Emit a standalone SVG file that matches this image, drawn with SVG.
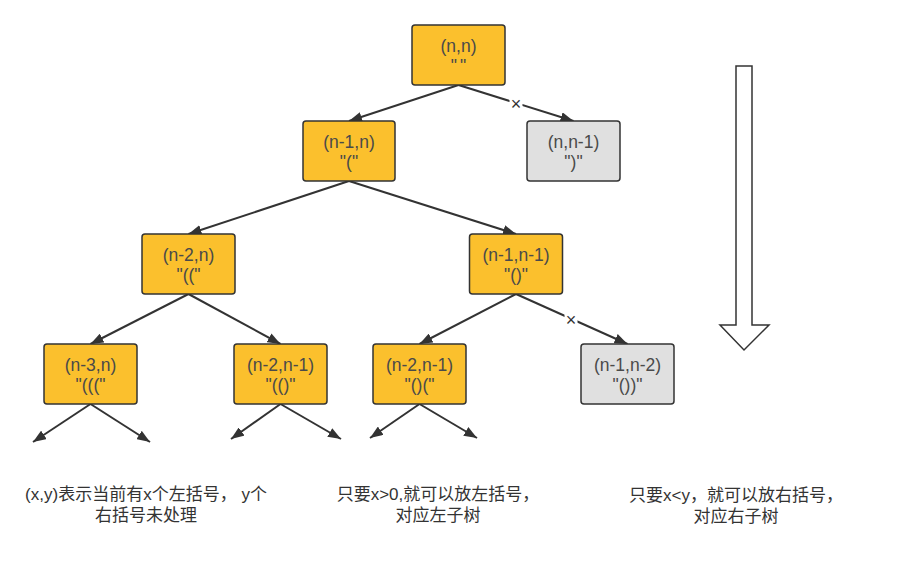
<svg xmlns="http://www.w3.org/2000/svg" width="901" height="564" viewBox="0 0 901 564">
<style>
.n rect{stroke:#333;stroke-width:1.5}
.o rect{fill:#fbc02d}
.g rect{fill:#e0e0e0}
.n text{font-family:"Liberation Sans",sans-serif;font-size:17.5px;fill:#4a4a4a;text-anchor:middle}
.e line{stroke:#333;stroke-width:2;marker-end:url(#ah)}
.x{font-family:"Liberation Sans",sans-serif;font-size:18px;fill:#333;text-anchor:middle}
.t{font-family:"Liberation Sans","Noto Sans CJK SC",sans-serif;font-size:17px;fill:#333;text-anchor:middle}
</style>
<defs>
<marker id="ah" viewBox="0 0 13 10" refX="13" refY="5" markerWidth="13" markerHeight="10" markerUnits="userSpaceOnUse" orient="auto">
<path d="M0,0 L13,5 L0,10 z" fill="#333"/>
</marker>
</defs>
<rect width="901" height="564" fill="#fff"/>
<g id="edges" class="e">
<line x1="458.5" y1="85" x2="349" y2="121"/>
<line x1="458.5" y1="85" x2="573.5" y2="121"/>
<line x1="349" y1="181" x2="188.5" y2="234"/>
<line x1="349" y1="181" x2="516" y2="234"/>
<line x1="188.5" y1="294" x2="90.5" y2="344"/>
<line x1="188.5" y1="294" x2="280.5" y2="344"/>
<line x1="516" y1="294" x2="419.5" y2="344"/>
<line x1="516" y1="294" x2="627.5" y2="344"/>
<line x1="90.5" y1="404" x2="33" y2="442"/>
<line x1="90.5" y1="404" x2="150" y2="442"/>
<line x1="280.5" y1="404" x2="231" y2="439"/>
<line x1="280.5" y1="404" x2="341" y2="439"/>
<line x1="419.5" y1="404" x2="370" y2="438"/>
<line x1="419.5" y1="404" x2="477" y2="438"/>
<rect x="509.5" y="97.5" width="13" height="13" fill="#fff"/>
<text class="x" x="516" y="110">×</text>
<rect x="564.5" y="313.5" width="13" height="13" fill="#fff"/>
<text class="x" x="571" y="326">×</text>
</g>
<g id="n0" class="n o"><rect x="412" y="25" width="93" height="60" rx="3"/><text x="458.5" y="52">(n,n)</text><text x="460" y="72" letter-spacing="3">""</text></g>
<g id="n1" class="n o"><rect x="303" y="121" width="92" height="60" rx="3"/><text x="349" y="148">(n-1,n)</text><text x="349" y="168">"("</text></g>
<g id="n2" class="n g"><rect x="527" y="121" width="93" height="60" rx="3"/><text x="573.5" y="148">(n,n-1)</text><text x="573.5" y="168">")"</text></g>
<g id="n3" class="n o"><rect x="142" y="234" width="93" height="60" rx="3"/><text x="188.5" y="261">(n-2,n)</text><text x="188.5" y="281">"(("</text></g>
<g id="n4" class="n o"><rect x="469.5" y="234" width="93" height="60" rx="3"/><text x="516" y="261">(n-1,n-1)</text><text x="516" y="281">"()"</text></g>
<g id="n5" class="n o"><rect x="44" y="344" width="93" height="60" rx="3"/><text x="90.5" y="371">(n-3,n)</text><text x="90.5" y="391">"((("</text></g>
<g id="n6" class="n o"><rect x="234" y="344" width="93" height="60" rx="3"/><text x="280.5" y="371">(n-2,n-1)</text><text x="280.5" y="391">"(()"</text></g>
<g id="n7" class="n o"><rect x="373" y="344" width="93" height="60" rx="3"/><text x="419.5" y="371">(n-2,n-1)</text><text x="419.5" y="391">"()("</text></g>
<g id="n8" class="n g"><rect x="581" y="344" width="93" height="60" rx="3"/><text x="627.5" y="371">(n-1,n-2)</text><text x="627.5" y="391">"())"</text></g>
<g id="bigarrow"><polygon points="736,66 752,66 752,325 769,325 744,350 720,325 736,325" fill="#fff" stroke="#333" stroke-width="1.5"/></g>
<g id="notes">
<text class="t" x="146" y="500">(x,y)表示当前有x个左括号， y个</text>
<text class="t" x="146" y="521">右括号未处理</text>
<text class="t" x="438" y="500">只要x&gt;0,就可以放左括号，</text>
<text class="t" x="438" y="521">对应左子树</text>
<text class="t" x="736" y="501">只要x&lt;y，就可以放右括号，</text>
<text class="t" x="736" y="522">对应右子树</text>
</g>
</svg>
